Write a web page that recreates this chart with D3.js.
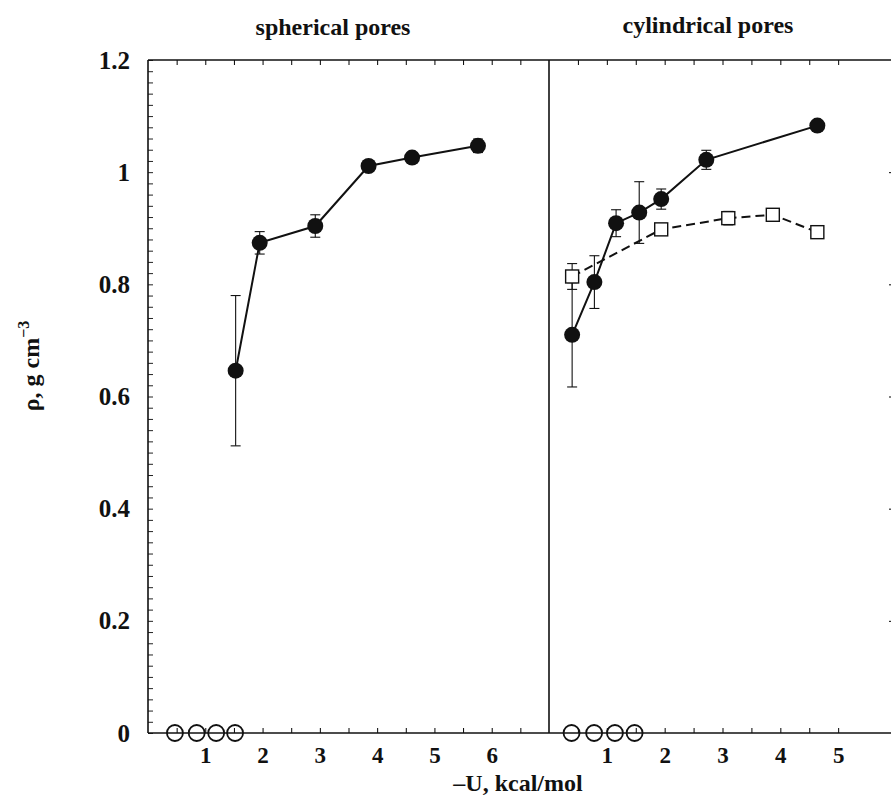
<!DOCTYPE html>
<html>
<head>
<meta charset="utf-8">
<script src="https://cdn.jsdelivr.net/npm/d3@7"></script>
<style>
  body { margin: 0; background: #fff; }
  text { font-family: "Liberation Serif", "Times New Roman", serif; font-weight: bold; fill: #111; }
</style>
</head>
<body>
<svg width="891" height="799"></svg>
<script>
// spherical pores panel
var sphX = [1.53, 1.95, 2.92, 3.85, 4.61, 5.76];
var sphY = [0.646, 0.874, 0.904, 1.011, 1.026, 1.047];
var sphErr = [0.134, 0.02, 0.02, 0.008, 0.008, 0.012];
var sphZeroX = [0.47, 0.85, 1.19, 1.52];

// cylindrical pores panel
var cylX = [0.40, 0.785, 1.16, 1.56, 1.94, 2.72, 4.64];
var cylY = [0.710, 0.804, 0.909, 0.928, 0.952, 1.022, 1.083];
var cylErr = [0.093, 0.047, 0.024, 0.055, 0.018, 0.017, 0.008];
var sqX = [0.40, 1.94, 3.10, 3.87, 4.64];
var sqY = [0.814, 0.898, 0.918, 0.924, 0.893];
var sqErr = [0.023, 0.008, 0.012, 0.006, 0.006];
var cylZeroX = [0.39, 0.78, 1.14, 1.48];

var yTicks = d3.range(0, 61).map(function (i) { return i * 0.02; });
var yMajor = [0, 0.2, 0.4, 0.6, 0.8, 1.0, 1.2];

var svg = d3.select('svg');
var top_ = 60, bottom = 733;

var y = d3.scaleLinear().domain([0, 1.2]).range([bottom, top_]);
var xL = d3.scaleLinear().domain([0, 7]).range([148, 549]);
var xR = d3.scaleLinear().domain([0, 6]).range([549, 896]);

function isMajor(v) { return Math.round(v * 50) % 10 === 0; }

// y axis (left)
var gy = svg.append('g')
  .attr('transform', 'translate(148,0)')
  .call(d3.axisLeft(y).tickValues(yTicks).tickSize(-5).tickPadding(18)
    .tickFormat(function (d) { return isMajor(d) ? String(Math.round(d * 10) / 10) : ''; }));
gy.select('.domain').remove();
gy.selectAll('line').attr('stroke', '#222');
gy.selectAll('text').style('font-size', '25px').attr('fill', '#111');

// right-hand axis ticks of the cylindrical panel (mostly off the page)
svg.append('g')
  .attr('transform', 'translate(896,0)')
  .call(d3.axisRight(y).tickValues(yMajor.slice(1, 6)).tickSize(-7).tickFormat(''))
  .call(function (g) { g.select('.domain').remove(); });

function xAxes(x, ticks) {
  var gb = svg.append('g')
    .attr('transform', 'translate(0,' + bottom + ')')
    .call(d3.axisBottom(x).tickValues(ticks).tickSize(-5).tickPadding(14)
      .tickFormat(function (d) { return Number.isInteger(d) ? d : ''; }));
  gb.select('.domain').remove();
  gb.selectAll('text').style('font-size', '23px').attr('fill', '#111');

  var gt = svg.append('g')
    .attr('transform', 'translate(0,' + top_ + ')')
    .call(d3.axisTop(x).tickValues(ticks).tickSize(-5).tickFormat(''));
  gt.select('.domain').remove();
}
xAxes(xL, d3.range(1, 14).map(function (i) { return i * 0.5; }));
xAxes(xR, d3.range(1, 11).map(function (i) { return i * 0.5; }));

// frame
var frame = svg.append('g').attr('stroke', '#111').attr('stroke-width', 1.6).attr('fill', 'none');
frame.append('line').attr('x1', 148).attr('x2', 891).attr('y1', top_).attr('y2', top_);
frame.append('line').attr('x1', 148).attr('x2', 891).attr('y1', bottom).attr('y2', bottom);
frame.append('line').attr('x1', 148).attr('x2', 148).attr('y1', top_).attr('y2', bottom);
frame.append('line').attr('x1', 549).attr('x2', 549).attr('y1', top_).attr('y2', bottom);

function errorBars(x, xs, ys, es) {
  var g = svg.append('g').attr('stroke', '#111').attr('stroke-width', 1.1);
  xs.forEach(function (xv, i) {
    var cx = x(xv), y1 = y(ys[i] - es[i]), y2 = y(ys[i] + es[i]);
    g.append('line').attr('x1', cx).attr('x2', cx).attr('y1', y1).attr('y2', y2);
    g.append('line').attr('x1', cx - 5).attr('x2', cx + 5).attr('y1', y1).attr('y2', y1);
    g.append('line').attr('x1', cx - 5).attr('x2', cx + 5).attr('y1', y2).attr('y2', y2);
  });
}

function series(x, xs, ys, dash) {
  var pts = xs.map(function (v, i) { return [v, ys[i]]; });
  svg.append('path')
    .datum(pts)
    .attr('fill', 'none')
    .attr('stroke', '#111')
    .attr('stroke-width', 2)
    .attr('stroke-dasharray', dash)
    .attr('d', d3.line().x(function (d) { return x(d[0]); }).y(function (d) { return y(d[1]); }));
  return pts;
}

function dots(x, pts) {
  svg.append('g').selectAll('circle').data(pts).enter().append('circle')
    .attr('cx', function (d) { return x(d[0]); })
    .attr('cy', function (d) { return y(d[1]); })
    .attr('r', 8)
    .attr('fill', '#111');
}

function squares(x, pts) {
  svg.append('g').selectAll('rect').data(pts).enter().append('rect')
    .attr('x', function (d) { return x(d[0]) - 6.5; })
    .attr('y', function (d) { return y(d[1]) - 6.5; })
    .attr('width', 13).attr('height', 13)
    .attr('fill', '#fff').attr('stroke', '#111').attr('stroke-width', 1.4);
}

function zeros(x, xs) {
  svg.append('g').selectAll('circle').data(xs).enter().append('circle')
    .attr('cx', function (d) { return x(d); })
    .attr('cy', y(0))
    .attr('r', 8)
    .attr('fill', 'none').attr('stroke', '#111').attr('stroke-width', 1.8);
}

// spherical
errorBars(xL, sphX, sphY, sphErr);
dots(xL, series(xL, sphX, sphY, null));
zeros(xL, sphZeroX);

// cylindrical
errorBars(xR, sqX, sqY, sqErr);
var sqPts = series(xR, sqX, sqY, '9,5');
errorBars(xR, cylX, cylY, cylErr);
dots(xR, series(xR, cylX, cylY, null));
squares(xR, sqPts);
zeros(xR, cylZeroX);

// titles
svg.append('text').attr('x', 333).attr('y', 35).attr('text-anchor', 'middle')
  .style('font-size', '24px').text('spherical pores');
svg.append('text').attr('x', 708).attr('y', 33).attr('text-anchor', 'middle')
  .style('font-size', '24px').text('cylindrical pores');

svg.append('text').attr('x', 518).attr('y', 791).attr('text-anchor', 'middle')
  .style('font-size', '24px').text('\u2013U, kcal/mol');

var yl = svg.append('text')
  .attr('transform', 'translate(39,366) rotate(-90)')
  .attr('text-anchor', 'middle')
  .style('font-size', '24px');
yl.append('tspan').text('\u03c1, g cm');
yl.append('tspan').attr('dy', -10).style('font-size', '16px').text('\u22123');
</script>
</body>
</html>
